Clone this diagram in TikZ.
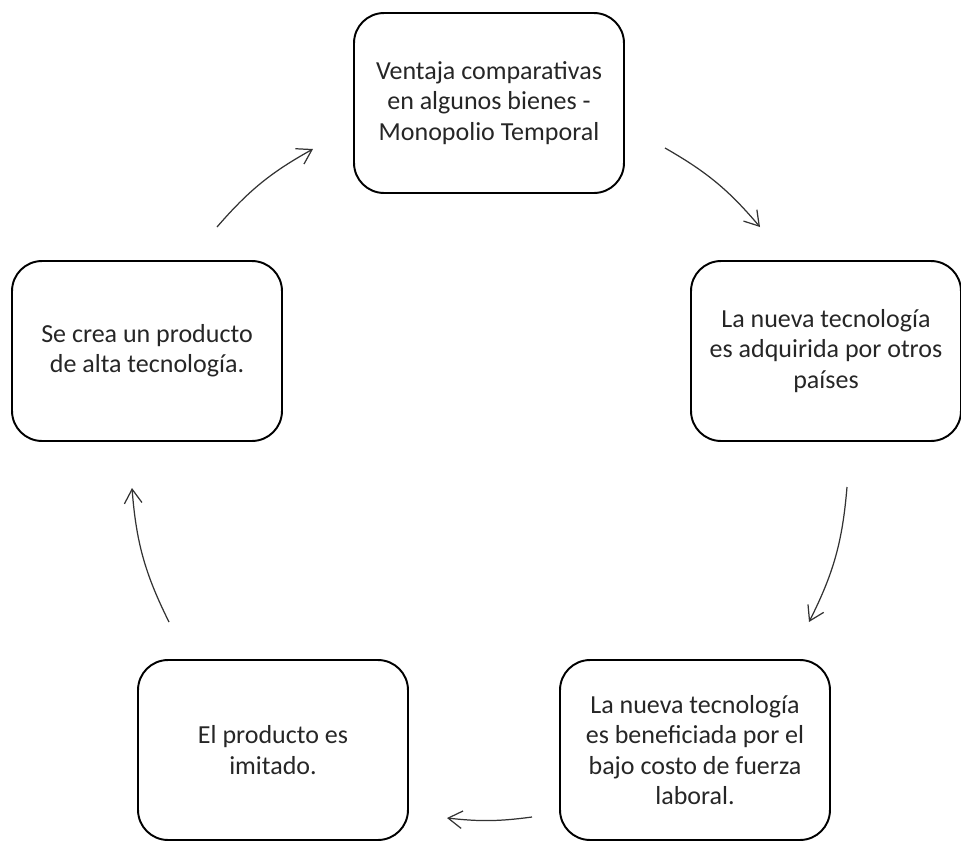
\documentclass[tikz,border=0pt]{standalone}
\usepackage{fontspec}
\setmainfont{Carlito}
\usetikzlibrary{arrows.meta}
\tikzset{
 etapa/.style={draw,line width=1.1pt,rounded corners=0.6cm,minimum width=5.4cm,minimum height=3.6cm,inner sep=0pt,align=center,font=\fontsize{14.8}{17.3}\selectfont,text=black!85},
 flecha/.style={line width=0.7pt,draw=black!80,-{Straight Barb[length=8pt,width=10pt]}}
}
\begin{document}
\begin{tikzpicture}[x=0.02cm,y=-0.02cm]
 \useasboundingbox (0,0) rectangle (961,842);
 \node[etapa] (ventaja) at (489,103) {Ventaja comparativas\\en algunos bienes -\\Monopolio Temporal};
 \node[etapa] (adquirida) at (826,351) {La nueva tecnología\\es adquirida por otros\\países};
 \node[etapa] (beneficiada) at (695,750) {La nueva tecnología\\es beneficiada por el\\bajo costo de fuerza\\laboral.};
 \node[etapa] (imitado) at (273,750) {El producto es\\imitado.};
 \node[etapa] (producto) at (147,351) {Se crea un producto\\de alta tecnología.};
 \coordinate (f1a) at (217,227);
 \coordinate (f1b) at (313,149);
 \coordinate (f2a) at (665,148);
 \coordinate (f2b) at (760,227);
 \coordinate (f3a) at (847,487);
 \coordinate (f3b) at (809,622);
 \coordinate (f4a) at (532,817);
 \coordinate (f4b) at (447,818);
 \coordinate (f5a) at (169,622);
 \coordinate (f5b) at (132,488);
 \draw[flecha] (f1a) to[bend left=10] (f1b);
 \draw[flecha] (f2a) to[bend left=10] (f2b);
 \draw[flecha] (f3a) to[bend left=11] (f3b);
 \draw[flecha] (f4a) to[bend left=7] (f4b);
 \draw[flecha] (f5a) to[bend left=11] (f5b);
\end{tikzpicture}
\end{document}
